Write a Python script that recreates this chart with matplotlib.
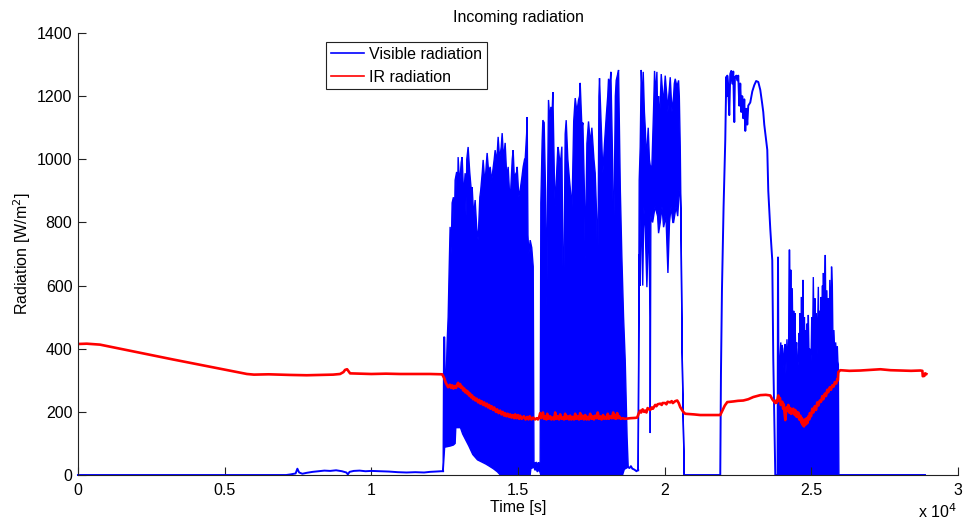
import matplotlib
matplotlib.use("Agg")
import matplotlib.pyplot as plt
from matplotlib.ticker import FuncFormatter

plt.rcParams["font.family"] = ["Liberation Sans", "DejaVu Sans"]
plt.rcParams["font.size"] = 11

BLUE = "#0000ff"
RED = "#ff0000"

# visible radiation, (time [s], W/m2).
# quiet stretches are plain samples, the fast-flickering stretches are
# given as an upper and a lower envelope.
vis_night = [(0, 0), (7100, 0), (7250, 2), (7420, 5), (7480, 20), (7540, 8), (7650, 4),
             (7800, 7), (8000, 10), (8200, 12), (8400, 14), (8600, 13), (8800, 15),
             (9000, 12), (9150, 8), (9200, 2), (9260, 10), (9400, 13), (9600, 14),
             (9800, 12), (10000, 13), (10300, 12), (10600, 11), (10900, 9), (11200, 8),
             (11500, 9), (11800, 8), (12000, 10), (12200, 11), (12380, 12), (12449, 12)]

burst1_top = [
    (12449, 12), (12470, 437), (12500, 437), (12517, 300), (12551, 300), (12585, 420),
    (12620, 500), (12654, 650), (12687, 786), (12722, 700), (12756, 862), (12800, 880),
    (12830, 760), (12858, 934), (12910, 960), (12935, 820), (12960, 1007), (13010, 920),
    (13065, 990), (13097, 1007), (13150, 880), (13199, 956), (13230, 820), (13255, 1000),
    (13301, 1039), (13355, 960), (13410, 900), (13438, 912), (13490, 820), (13540, 871),
    (13595, 780), (13642, 744), (13700, 880), (13728, 900), (13785, 960), (13813, 998),
    (13860, 940), (13881, 930), (13925, 990), (13949, 1020), (14000, 960), (14052, 976),
    (14105, 930), (14137, 960), (14190, 1000), (14222, 1029), (14275, 990), (14324, 1071),
    (14375, 1000), (14430, 1040), (14461, 1083), (14510, 1000), (14563, 1052),
    (14620, 940), (14666, 976), (14720, 880), (14751, 900), (14805, 1000), (14836, 1029),
    (14885, 920), (14905, 950), (14955, 960), (14973, 976), (15030, 880), (15075, 903),
    (15130, 940), (15177, 976), (15225, 1000), (15246, 1000), (15295, 1080),
    (15314, 1134), (15340, 760), (15370, 700), (15416, 744), (15470, 720), (15520, 660),
    (15545, 40), (15580, 38), (15620, 40), (15660, 35), (15700, 40), (15740, 35),
    (15757, 40), (15780, 862), (15825, 1060), (15848, 1124), (15893, 1116), (15940, 900),
    (15984, 532), (16010, 900), (16041, 1188), (16090, 1120), (16121, 1166),
    (16165, 1150), (16189, 1213), (16240, 950), (16269, 849), (16330, 980), (16360, 1039),
    (16382, 1030), (16440, 980), (16496, 1040), (16553, 481), (16610, 1080),
    (16644, 1124), (16700, 1000), (16757, 934), (16810, 880), (16837, 817),
    (16900, 1120), (16951, 1194), (17010, 1150), (17064, 1188), (17100, 1200),
    (17121, 1242), (17180, 1100), (17213, 1116), (17265, 900), (17292, 680),
    (17350, 1050), (17405, 1120), (17470, 1050), (17519, 1100), (17590, 1000),
    (17633, 956), (17690, 800), (17712, 470), (17760, 1200), (17780, 1257),
    (17840, 1100), (17894, 956), (17950, 1050), (18008, 1134), (18060, 1200),
    (18087, 1255), (18140, 1240), (18167, 1277), (18225, 1000), (18258, 690),
    (18320, 1200), (18349, 1250), (18400, 1270), (18429, 1283), (18490, 900),
    (18542, 690), (18600, 500), (18656, 364), (18720, 120), (18758, 25)]

burst1_bottom = [
    (12449, 12), (12500, 88), (12600, 90), (12700, 92), (12800, 95), (12858, 100),
    (12880, 150), (13040, 150), (13115, 130), (13225, 110), (13325, 92), (13460, 65),
    (13620, 48), (13750, 42), (13900, 35), (14025, 28), (14160, 20), (14300, 10),
    (14400, 0), (15416, 0), (15440, 20), (15545, 25), (15580, 15), (15620, 20),
    (15660, 10), (15700, 15), (15740, 12), (15780, 0), (18565, 0), (18625, 18),
    (18758, 25)]

vis_lull = [(18758, 25), (18800, 22), (18850, 28), (18900, 20), (18950, 18), (19000, 15),
            (19040, 12), (19080, 15), (19099, 15)]

noisy_top = [
    (19099, 15), (19133, 934), (19167, 1039), (19202, 1283), (19235, 1200), (19253, 1150),
    (19270, 1277), (19310, 1150), (19338, 1102), (19380, 1000), (19440, 1100),
    (19480, 1000), (19509, 980), (19565, 976), (19620, 1150), (19656, 1280),
    (19700, 1200), (19736, 1277), (19760, 1150), (19793, 1200), (19820, 1100),
    (19884, 1270), (19940, 1200), (19964, 1180), (20020, 1265), (20075, 1200),
    (20112, 1150), (20140, 1200), (20191, 1260), (20250, 1150), (20305, 1200),
    (20330, 1240), (20361, 1255), (20420, 1230), (20475, 1250), (20500, 1200),
    (20532, 1039), (20560, 800), (20589, 450), (20620, 250), (20645, 120), (20668, 0)]

noisy_bottom = [
    (19099, 15), (19133, 700), (19167, 600), (19202, 880), (19253, 600), (19290, 850),
    (19338, 780), (19395, 595), (19460, 820), (19500, 500), (19509, 133), (19520, 500),
    (19530, 820), (19590, 800), (19675, 850), (19760, 820), (19793, 766), (19850, 800),
    (19910, 850), (19964, 785), (20045, 820), (20112, 640), (20165, 800), (20220, 850),
    (20280, 800), (20305, 800), (20390, 850), (20445, 820), (20500, 900), (20532, 900),
    (20560, 800), (20589, 450), (20620, 250), (20645, 120), (20668, 0)]

vis_clear = [
    (20668, 0), (21896, 0), (21920, 323), (21954, 586), (22009, 849), (22067, 1061),
    (22101, 1261), (22120, 1200), (22135, 1265), (22169, 1230), (22203, 1140),
    (22237, 1270), (22271, 1280), (22305, 1240), (22340, 1278), (22374, 1118),
    (22395, 1260), (22442, 1265), (22476, 1250), (22510, 1265), (22544, 1170),
    (22578, 1240), (22612, 1150), (22646, 1200), (22681, 1130), (22715, 1190),
    (22749, 1090), (22783, 1160), (22817, 1110), (22851, 1170), (22919, 1180),
    (22988, 1215), (23056, 1235), (23120, 1248), (23192, 1245), (23260, 1220),
    (23320, 1180), (23362, 1150), (23396, 1110), (23499, 1030), (23533, 900),
    (23601, 780), (23669, 680), (23703, 370), (23772, 0), (23840, 0)]

burst2_top = [
    (23840, 0), (23855, 690), (23874, 690), (23890, 320), (23925, 360), (23960, 420),
    (23985, 330), (24011, 412), (24040, 340), (24080, 400), (24113, 415), (24135, 320),
    (24170, 430), (24200, 350), (24225, 380), (24245, 713), (24262, 713), (24280, 420),
    (24300, 650), (24320, 430), (24350, 592), (24375, 400), (24400, 520), (24420, 400),
    (24440, 513), (24470, 380), (24500, 420), (24522, 332), (24550, 350), (24575, 450),
    (24595, 360), (24615, 513), (24640, 400), (24665, 564), (24690, 380), (24715, 618),
    (24740, 420), (24765, 500), (24790, 380), (24810, 459), (24835, 350), (24860, 480),
    (24880, 380), (24898, 507), (24925, 360), (24945, 400), (24966, 332), (24990, 360),
    (25015, 500), (25040, 380), (25068, 627), (25095, 420), (25120, 560), (25145, 400),
    (25170, 513), (25200, 380), (25239, 596), (25265, 400), (25290, 520), (25310, 380),
    (25335, 564), (25355, 420), (25380, 600), (25395, 430), (25412, 640), (25435, 420),
    (25460, 620), (25477, 697), (25500, 450), (25530, 585), (25555, 420), (25580, 560),
    (25605, 400), (25630, 618), (25660, 430), (25690, 660), (25716, 600), (25740, 400),
    (25770, 459), (25800, 380), (25830, 420), (25860, 370), (25887, 407), (25905, 360),
    (25921, 350), (25940, 0), (25955, 0)]

burst2_bottom = [(23840, 0), (25955, 0)]

vis_tail = [(25955, 0), (28888, 0)]

# IR radiation
ir = [
    (0, 415), (300, 416), (600, 414), (750, 413), (3240, 366), (5760, 320), (6000, 318),
    (6500, 319), (7230, 317), (7800, 316), (8254, 317), (8700, 318), (8936, 320),
    (9050, 326), (9106, 333), (9175, 335), (9230, 328), (9277, 322), (9600, 321),
    (10000, 320), (10500, 321), (10982, 320), (11500, 320), (12000, 320), (12415, 319),
    (12480, 308), (12540, 292), (12585, 284), (12620, 278), (12680, 286), (12720, 276),
    (12760, 284), (12800, 274), (12850, 282), (12890, 276), (12926, 286), (12960, 292),
    (13000, 280), (13028, 288), (13060, 276), (13100, 280), (13131, 268), (13170, 274),
    (13200, 262), (13240, 268), (13267, 258), (13300, 264), (13330, 252), (13370, 258),
    (13400, 246), (13440, 252), (13472, 240), (13510, 246), (13550, 236), (13590, 242),
    (13642, 230), (13680, 238), (13720, 226), (13760, 234), (13813, 222), (13850, 230),
    (13900, 218), (13940, 226), (13983, 214), (14020, 222), (14060, 210), (14100, 218),
    (14154, 206), (14190, 214), (14250, 200), (14290, 208), (14340, 196), (14393, 204),
    (14440, 192), (14480, 200), (14530, 188), (14563, 196), (14610, 186), (14650, 194),
    (14700, 184), (14734, 192), (14780, 182), (14820, 190), (14870, 180), (14905, 192),
    (14950, 180), (15000, 190), (15040, 178), (15075, 188), (15130, 178), (15200, 186),
    (15260, 176), (15314, 184), (15360, 176), (15400, 186), (15460, 176), (15518, 182),
    (15580, 176), (15640, 180), (15680, 176), (15720, 182), (15757, 196), (15790, 180),
    (15850, 198), (15890, 178), (15927, 186), (15970, 176), (16000, 194), (16050, 178),
    (16098, 186), (16140, 176), (16180, 182), (16230, 176), (16269, 198), (16310, 178),
    (16350, 186), (16400, 176), (16439, 192), (16490, 178), (16530, 182), (16570, 176),
    (16610, 194), (16650, 178), (16700, 186), (16740, 176), (16780, 188), (16820, 176),
    (16860, 184), (16910, 176), (16951, 194), (16990, 178), (17030, 186), (17080, 176),
    (17121, 196), (17160, 178), (17200, 188), (17250, 176), (17292, 190), (17340, 176),
    (17380, 184), (17420, 176), (17462, 194), (17510, 178), (17550, 186), (17590, 176),
    (17633, 188), (17680, 180), (17720, 198), (17760, 178), (17803, 186), (17850, 176),
    (17900, 190), (17940, 178), (17974, 184), (18020, 178), (18060, 194), (18100, 178),
    (18144, 186), (18200, 180), (18247, 198), (18280, 180), (18300, 190), (18340, 178),
    (18383, 196), (18420, 180), (18450, 186), (18500, 178), (18560, 180), (18656, 178),
    (18826, 180), (19000, 181), (19065, 182), (19120, 196), (19167, 204), (19200, 198),
    (19250, 208), (19300, 200), (19338, 204), (19380, 198), (19420, 212), (19509, 206),
    (19560, 214), (19600, 210), (19679, 222), (19720, 218), (19760, 224), (19850, 226),
    (19900, 222), (19930, 228), (20020, 228), (20060, 224), (20100, 232), (20191, 230),
    (20240, 234), (20280, 228), (20361, 234), (20429, 236), (20480, 228), (20532, 215),
    (20634, 200), (20702, 194), (21000, 192), (21213, 190), (21600, 190), (21896, 190),
    (21964, 203), (22050, 220), (22135, 231), (22340, 233), (22500, 235), (22681, 236),
    (22850, 240), (23022, 247), (23260, 253), (23450, 254), (23601, 252), (23669, 240),
    (23772, 228), (23800, 236), (23830, 230), (23874, 252), (23900, 236), (23930, 244),
    (23960, 222), (24011, 232), (24040, 210), (24060, 224), (24090, 196), (24113, 174),
    (24140, 200), (24160, 214), (24190, 204), (24215, 222), (24250, 198), (24284, 212),
    (24310, 194), (24330, 208), (24360, 196), (24386, 210), (24420, 192), (24454, 206),
    (24480, 186), (24500, 200), (24530, 184), (24556, 198), (24590, 176), (24625, 188),
    (24660, 166), (24680, 180), (24710, 158), (24727, 170), (24750, 154), (24780, 176),
    (24810, 160), (24840, 180), (24863, 164), (24900, 186), (24930, 176), (24950, 196),
    (24990, 186), (25034, 210), (25070, 198), (25120, 218), (25160, 206), (25204, 230),
    (25240, 220), (25290, 236), (25330, 232), (25375, 250), (25410, 240), (25460, 258),
    (25500, 250), (25545, 270), (25580, 262), (25630, 278), (25670, 270), (25716, 284),
    (25760, 280), (25800, 294), (25850, 290), (25887, 304), (25905, 300), (25921, 326),
    (25989, 332), (26300, 330), (26671, 331), (27000, 333), (27353, 335), (27700, 332),
    (28035, 331), (28400, 330), (28717, 331), (28786, 330), (28800, 313), (28854, 314),
    (28880, 322), (28922, 320)]

x_ticks = [0, 5000, 10000, 15000, 20000, 25000, 30000]
y_ticks = [0, 200, 400, 600, 800, 1000, 1200, 1400]


def band(ax, top, bottom):
    # closed outline: along the upper envelope, back along the lower one
    tx, ty = zip(*top)
    bx, by = zip(*bottom)
    ax.fill(list(tx) + list(bx[::-1]), list(ty) + list(by[::-1]),
            facecolor=BLUE, edgecolor=BLUE, lw=1.0, clip_on=False)


fig = plt.figure(figsize=(9.66, 5.25), dpi=100)
ax = fig.add_axes([0.0807, 0.0952, 0.9110, 0.8419])

quiet = vis_night + vis_lull + vis_clear + vis_tail
for seg in (vis_night, vis_lull, vis_clear, vis_tail):
    t, v = zip(*seg)
    ax.plot(t, v, color=BLUE, lw=1.4, clip_on=False)
band(ax, burst1_top, burst1_bottom)
band(ax, noisy_top, noisy_bottom)
band(ax, burst2_top, burst2_bottom)

ir_t, ir_v = zip(*ir)
ax.plot(ir_t, ir_v, color=RED, lw=1.9)

# legend handles
ax.plot([], [], color=BLUE, lw=1.2, label="Visible radiation")
ax.plot([], [], color=RED, lw=1.2, label="IR radiation")

ax.set_xlim(0, 30000)
ax.set_ylim(0, 1400)
ax.set_xticks(x_ticks)
ax.set_yticks(y_ticks)
ax.xaxis.set_major_formatter(FuncFormatter(lambda v, p: f"{v / 1e4:g}"))

for side in ("top", "right"):
    ax.spines[side].set_visible(False)
for side in ("left", "bottom"):
    ax.spines[side].set_linewidth(0.8)
    ax.spines[side].set_color("#222222")
ax.tick_params(direction="in", length=6, width=0.8, color="#222222", labelsize=11.5, pad=4)
ax.tick_params(axis="x", pad=6)

ax.set_title("Incoming radiation", fontsize=11.5, y=1.036, va="center", pad=0)
ax.set_xlabel("Time [s]", fontsize=11.5, va="center")
ax.xaxis.set_label_coords(0.5, -0.0724)
ax.set_ylabel("Radiation [W/m$^{2}$]", fontsize=11.5, va="center")
ax.yaxis.set_label_coords(-0.0636, 0.5)
ax.text(0.9545, -0.084, "x 10$^{4}$", transform=ax.transAxes, fontsize=11.5,
        ha="left", va="center")

leg = ax.legend(loc="upper left", bbox_to_anchor=(0.282, 0.980), borderaxespad=0,
                fancybox=False, framealpha=1, edgecolor="#222222", fontsize=11.5,
                handlelength=2.1, handletextpad=0.3, labelspacing=0.5, borderpad=0.3)
leg.get_frame().set_linewidth(0.8)

fig.savefig("out.png", dpi=100)
